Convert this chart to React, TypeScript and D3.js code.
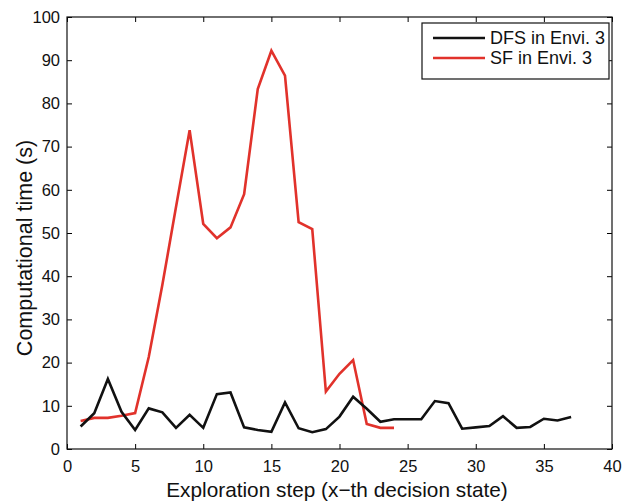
import React, { useEffect, useRef } from "react";
import * as d3 from "d3";

// Computational time (s) per exploration step
const dfsSteps = d3.range(1, 38);
const dfsTimes = [
  5.2, 8.3, 16.2, 8.6, 4.4, 9.4, 8.5, 4.9, 7.9, 4.9, 12.7, 13.1, 5.0, 4.4, 4.0, 10.8, 4.8, 3.9, 4.6,
  7.5, 12.1, 9.3, 6.3, 6.9, 6.9, 6.9, 11.1, 10.6, 4.7, 5.0, 5.3, 7.6, 4.9, 5.1, 7.0, 6.6, 7.4,
];
const sfSteps = d3.range(1, 25);
const sfTimes = [
  6.5, 7.2, 7.2, 7.7, 8.3, 21.3, 38.0, 56.0, 73.8, 52.1, 48.8, 51.3, 59.0, 83.3, 92.2, 86.4, 52.5,
  50.9, 13.3, 17.4, 20.6, 5.8, 4.9, 4.9,
];
const xTicks = [0, 5, 10, 15, 20, 25, 30, 35, 40];
const yTicks = [0, 10, 20, 30, 40, 50, 60, 70, 80, 90, 100];
const seriesNames = ["DFS in Envi. 3", "SF in Envi. 3"];
const seriesColors = ["#111111", "#e1322b"];

export default function App() {
  const svgRef = useRef<SVGSVGElement>(null);
  const width = 627;
  const height = 504;

  useEffect(() => {
    const svg = d3.select(svgRef.current);
    svg.selectAll("*").remove();

    const margin = { top: 17, right: 15, bottom: 55, left: 67 };
    const x = d3.scaleLinear().domain([0, 40]).range([margin.left, width - margin.right]);
    const y = d3.scaleLinear().domain([0, 100]).range([height - margin.bottom, margin.top]);
    const font = "'Liberation Sans', Arial, Helvetica, sans-serif";

    // Axes with inward ticks on all sides
    const tickLen = 5;
    svg.append("g")
      .attr("transform", `translate(0,${y(0)})`)
      .call(d3.axisBottom(x).tickValues(xTicks).tickSizeInner(-tickLen).tickSizeOuter(0).tickPadding(11))
      .call(g => g.select(".domain").remove())
      .call(g => g.selectAll("text").attr("font-size", 16.5).attr("font-family", font).attr("fill", "#111"));
    svg.append("g")
      .attr("transform", `translate(0,${y(100)})`)
      .call(d3.axisTop(x).tickValues(xTicks).tickSizeInner(-tickLen).tickSizeOuter(0).tickFormat(() => ""))
      .call(g => g.select(".domain").remove());
    svg.append("g")
      .attr("transform", `translate(${x(0)},0)`)
      .call(d3.axisLeft(y).tickValues(yTicks).tickSizeInner(-tickLen).tickSizeOuter(0).tickPadding(7))
      .call(g => g.select(".domain").remove())
      .call(g => g.selectAll("text").attr("font-size", 16.5).attr("font-family", font).attr("fill", "#111"));
    svg.append("g")
      .attr("transform", `translate(${x(40)},0)`)
      .call(d3.axisRight(y).tickValues(yTicks).tickSizeInner(-tickLen).tickSizeOuter(0).tickFormat(() => ""))
      .call(g => g.select(".domain").remove());

    svg.append("rect")
      .attr("x", x(0)).attr("y", y(100))
      .attr("width", x(40) - x(0)).attr("height", y(0) - y(100))
      .attr("fill", "none").attr("stroke", "#111").attr("stroke-width", 1.2);

    // Lines
    const line = d3.line<[number, number]>().x(d => x(d[0])).y(d => y(d[1]));
    const series: [number, number][][] = [
      dfsSteps.map((s, i) => [s, dfsTimes[i]]),
      sfSteps.map((s, i) => [s, sfTimes[i]]),
    ];
    [1, 0].forEach(i => {
      svg.append("path")
        .attr("d", line(series[i]))
        .attr("fill", "none")
        .attr("stroke", seriesColors[i])
        .attr("stroke-width", 2.6)
        .attr("stroke-linejoin", "miter");
    });

    // Axis labels
    svg.append("text")
      .attr("x", 337).attr("y", 497)
      .attr("text-anchor", "middle")
      .attr("font-size", 20.8).attr("font-family", font).attr("fill", "#111")
      .text("Exploration step (x\u2212th decision state)");
    svg.append("text")
      .attr("transform", `translate(32,248) rotate(-90)`)
      .attr("text-anchor", "middle")
      .attr("font-size", 21.5).attr("font-family", font).attr("fill", "#111")
      .text("Computational time (s)");

    // Legend
    const legend = svg.append("g").attr("transform", "translate(422,23)");
    legend.append("rect")
      .attr("width", 187).attr("height", 56)
      .attr("fill", "white").attr("stroke", "#111").attr("stroke-width", 1.2);
    seriesNames.forEach((name, i) => {
      const ly = 15 + i * 20;
      legend.append("line")
        .attr("x1", 11).attr("x2", 63).attr("y1", ly).attr("y2", ly)
        .attr("stroke", seriesColors[i]).attr("stroke-width", 2.6);
      legend.append("text")
        .attr("x", 68).attr("y", ly).attr("dy", "0.35em")
        .attr("font-size", 18).attr("font-family", font).attr("fill", "#111")
        .text(name);
    });
  }, []);

  return <svg ref={svgRef} width={width} height={height} style={{ position: "absolute", left: 0, top: 0, background: "white" }} />;
}
